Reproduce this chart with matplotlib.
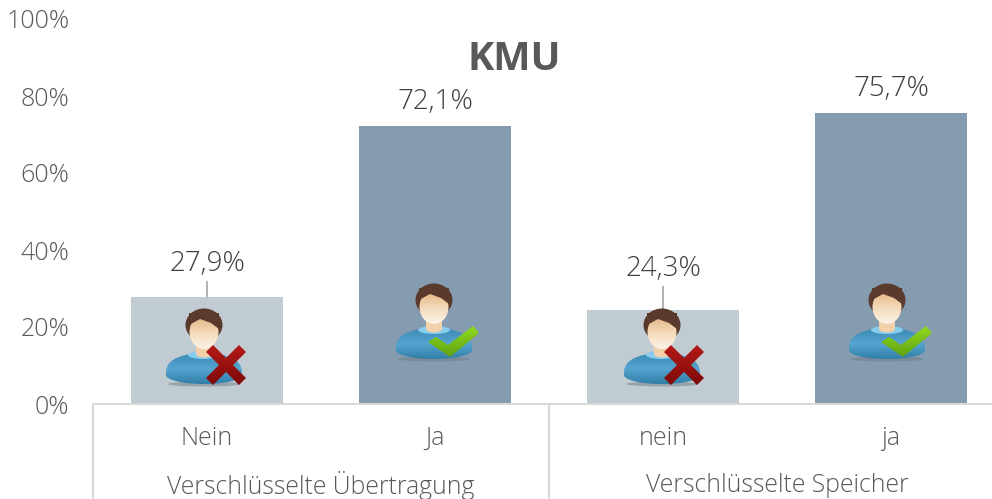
import matplotlib
matplotlib.use('Agg')
import matplotlib.pyplot as plt
from matplotlib.patches import Ellipse, Polygon, Rectangle
from matplotlib.transforms import Affine2D
from matplotlib.colors import LinearSegmentedColormap
import numpy as np

plt.rcParams['font.family'] = ['Open Sans', 'DejaVu Sans']

answers = ['Nein', 'Ja', 'nein', 'ja']
groups = ['Verschlüsselte Übertragung', 'Verschlüsselte Speicher']
values = [27.9, 72.1, 24.3, 75.7]
value_labels = ['27,9%', '72,1%', '24,3%', '75,7%']
bar_colors = ['#c1cbd2', '#859bb0', '#c1cbd2', '#859bb0']
y_ticks = [0, 20, 40, 60, 80, 100]
y_tick_labels = ['0%', '20%', '40%', '60%', '80%', '100%']

W, H = 992, 499
text_col = '#595959'
line_col = '#d9d9d9'

fig = plt.figure(figsize=(W / 100, H / 100), dpi=100)
ax = fig.add_axes([93 / W, (H - 404) / H, (W - 93) / W, 385 / H])

x = np.arange(len(values))
ax.bar(x, values, width=0.667, color=bar_colors)
ax.set_xlim(-0.5, -0.5 + (W - 93) / 228)
ax.set_ylim(0, 100)

for s in ['top', 'right', 'left']:
    ax.spines[s].set_visible(False)
ax.spines['bottom'].set_color(line_col)
ax.spines['bottom'].set_linewidth(1.5)

ax.set_yticks(y_ticks)
ax.set_yticklabels(y_tick_labels, fontsize=18, color=text_col, fontweight='light')
ax.tick_params(axis='y', length=0, pad=17)
ax.set_xticks(x)
ax.set_xticklabels(answers, fontsize=18, color=text_col, fontweight='light')
ax.tick_params(axis='x', length=0, pad=16)

# zweite Ebene der Kategorien
for i, g in enumerate(groups):
    ax.annotate(g, (0.5 + 2 * i, 0), xytext=(0, -81), textcoords='offset pixels',
                ha='center', va='center', fontsize=17.8, color=text_col,
                fontweight='light', annotation_clip=False)
for sep in [-0.5, 1.5]:
    ax.plot([sep, sep], [0, -25], color=line_col, lw=1.5, clip_on=False)

# Werte und Fuehrungslinien
for i, v in enumerate(values):
    dy = 24 if i in (1, 3) else (33 if i == 0 else 41)
    ax.annotate(value_labels[i], (i, v), xytext=(0, dy), textcoords='offset pixels',
                ha='center', va='center', fontsize=20, color='#404040', fontweight='light')
    if i in (0, 2):
        ax.annotate('', (i, v), xytext=(0, 15 if i == 0 else 24), textcoords='offset pixels',
                    arrowprops=dict(arrowstyle='-', color='#a6a6a6', lw=1.2, shrinkA=0, shrinkB=0))

ax.text(514, H - 59, 'KMU', transform=None, ha='center', va='center',
        fontsize=28.5, fontweight='bold', color='#595959')

skin = LinearSegmentedColormap.from_list('skin', ['#fdf3e8', '#f3d9b8', '#e4b27e'])
shirt = LinearSegmentedColormap.from_list('shirt', ['#2f7fa8', '#55a5d0', '#3a8ab5'])
red = LinearSegmentedColormap.from_list('red', ['#7c0a0a', '#b51a16'])
green = LinearSegmentedColormap.from_list('green', ['#5fa012', '#8fdc1e'])
grad = np.linspace(0, 1, 64).reshape(-1, 1)

# Pixel von oben links, wie im Bild
px = Affine2D().scale(1, -1).translate(0, H)


def filled(patch, cmap, box):
    # Verlauf in die Form schneiden
    ax.add_patch(patch)
    patch.set_facecolor('none')
    im = ax.imshow(grad, cmap=cmap, origin='lower', aspect='auto', zorder=patch.get_zorder(),
                   extent=box, transform=px)
    im.set_clip_path(patch)


def person(cx, top, mark):
    ax.add_patch(Ellipse((cx, top + 75), 72, 5, color='#6f7b84', alpha=0.5, transform=px, zorder=3, lw=0))
    # Koerper aus zwei halben Ellipsen, oben etwas breiter
    t = np.linspace(np.pi, 0, 40)
    upper = np.c_[cx + 38 * np.cos(t), top + 66 - 22 * np.sin(t) ** 0.7]
    lower = np.c_[cx + 38 * np.cos(t[::-1]), top + 66 + 9 * np.sin(t[::-1])]
    body = Polygon(np.r_[upper, lower], transform=px, zorder=4, lw=0)
    filled(body, shirt, (cx - 38, cx + 38, top + 75, top + 44))
    ax.add_patch(Ellipse((cx, top + 46), 32, 8, color='#86cdf0', transform=px, zorder=4.3, lw=0))
    ax.add_patch(Rectangle((cx - 8, top + 30), 16, 16, color='#f1d0aa', transform=px, zorder=4.4, lw=0))
    ax.add_patch(Ellipse((cx, top + 45), 16, 7, color='#f1d0aa', transform=px, zorder=4.5, lw=0))
    # Haare und Gesicht
    ax.add_patch(Ellipse((cx, top + 16), 37, 33, color='#5a3a2c', transform=px, zorder=5, lw=0))
    face = Ellipse((cx, top + 23), 29, 34, transform=px, zorder=6, lw=0)
    filled(face, skin, (cx - 15, cx + 15, top + 40, top + 6))
    ax.add_patch(Polygon([(cx - 15, top + 16), (cx - 4, top + 10), (cx + 7, top + 14), (cx + 15, top + 20),
                          (cx + 15, top + 4), (cx - 15, top + 4)],
                         color='#5a3a2c', transform=px, zorder=6.5, lw=0))
    if mark == 'x':
        mx, my, s, a = cx + 22, top + 56, 20, 7
        cross = Polygon([(mx - s + a, my - s), (mx, my - a), (mx + s - a, my - s), (mx + s, my - s + a),
                         (mx + a, my), (mx + s, my + s - a), (mx + s - a, my + s), (mx, my + a),
                         (mx - s + a, my + s), (mx - s, my + s - a), (mx - a, my), (mx - s, my - s + a)],
                        transform=px, zorder=7, lw=0)
        filled(cross, red, (mx - s, mx + s, my + s, my - s))
    else:
        check = Polygon([(cx - 6, top + 58), (cx + 2, top + 53), (cx + 14, top + 61), (cx + 39, top + 42),
                         (cx + 45, top + 49), (cx + 16, top + 73)],
                        transform=px, zorder=7, lw=0)
        filled(check, green, (cx - 6, cx + 45, top + 73, top + 42))


person(204, 309, 'x')
person(434, 284, 'ok')
person(662, 309, 'x')
person(887, 284, 'ok')
ax.set_xlim(-0.5, -0.5 + (W - 93) / 228)
ax.set_ylim(0, 100)

fig.savefig('out.png', dpi=100)
